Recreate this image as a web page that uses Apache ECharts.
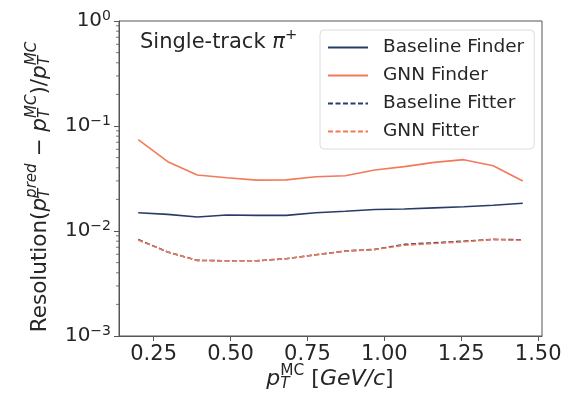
<!DOCTYPE html>
<html>
<head>
<meta charset="utf-8">
<script src="https://cdn.jsdelivr.net/npm/echarts@6/dist/echarts.min.js"></script>
<style>
  html, body { margin: 0; padding: 0; background: #fff; }
  #chart { width: 566px; height: 395px; }
</style>
</head>
<body>
<div id="chart"></div>
<script>
// pT bin centres
const ptMC = [0.2, 0.296, 0.392, 0.488, 0.585, 0.681, 0.777, 0.873, 0.969, 1.065, 1.162, 1.258, 1.354, 1.45];
const baselineFinder = [0.0149, 0.0144, 0.0136, 0.0142, 0.0141, 0.0141, 0.0149, 0.0154, 0.0160, 0.0162, 0.0166, 0.0170, 0.0176, 0.0184];
const gnnFinder = [0.0743, 0.0457, 0.0341, 0.0321, 0.0305, 0.0307, 0.0329, 0.0336, 0.0381, 0.0410, 0.0450, 0.0478, 0.0419, 0.0299];
const baselineFitter = [0.0083, 0.0063, 0.00525, 0.0052, 0.0052, 0.00545, 0.00594, 0.00645, 0.00668, 0.00745, 0.00772, 0.00800, 0.00832, 0.00825];
const gnnFitter = [0.0082, 0.0063, 0.00525, 0.0052, 0.0052, 0.00545, 0.00592, 0.00643, 0.00666, 0.00732, 0.00760, 0.00790, 0.00830, 0.00815];
const xTicks = [0.25, 0.5, 0.75, 1.0, 1.25, 1.5];
const minorDecades = [0.001, 0.01, 0.1];
const minorSteps = [2, 3, 4, 5, 6, 7, 8, 9];

const NAVY = '#283c6a';
const ORANGE = '#f27a5a';
const INK = '#262626';
const FONT = '"DejaVu Sans"';

const X0 = 0.1375, X1 = 1.5125;

function pairs(ys) { return ptMC.map((x, i) => [x, ys[i]]); }

// mathtext-ish: lay out pieces with sub/sup stacked, measured on a canvas
const measureCtx = document.createElement('canvas').getContext('2d');
function mathPieces(parts, fs) {
  let x = 0, subStart = 0;
  const out = [];
  parts.forEach(p => {
    const small = p.s === 'sub' || p.s === 'sup';
    const size = small ? fs * 0.7 : fs;
    const font = (p.i ? 'italic ' : '') + size + 'px ' + FONT;
    measureCtx.font = font;
    const w = measureCtx.measureText(p.t).width;
    let px = x;
    if (p.stack) px = subStart;
    let dy = 0;
    if (p.s === 'sub') dy = fs * 0.22;
    if (p.s === 'sup') dy = -fs * 0.38;
    out.push({ type: 'text', x: px, y: dy, silent: true,
      style: { text: p.t, font: font, fill: INK, verticalAlign: 'middle' } });
    if (p.stack) { x = Math.max(x, px + w); }
    else { subStart = x; x = px + w; }
  });
  return { children: out, width: x };
}

const yTitle = mathPieces([
  { t: 'Resolution(' }, { t: 'p', i: 1 }, { t: 'T', i: 1, s: 'sub' }, { t: 'pred', i: 1, s: 'sup', stack: 1 },
  { t: ' \u2212 ' }, { t: 'p', i: 1 }, { t: 'T', i: 1, s: 'sub' }, { t: 'MC', i: 1, s: 'sup', stack: 1 },
  { t: ')/' }, { t: 'p', i: 1 }, { t: 'T', i: 1, s: 'sub' }, { t: 'MC', i: 1, s: 'sup', stack: 1 }
], 21.5);
const xTitle = mathPieces([
  { t: 'p', i: 1 }, { t: 'T', i: 1, s: 'sub' }, { t: 'MC', s: 'sup', stack: 1 },
  { t: ' [' }, { t: 'GeV/c', i: 1 }, { t: ']' }
], 22);
const titleText = mathPieces([
  { t: 'Single-track ' }, { t: '\u03c0', i: 1 }, { t: '+', s: 'sup' }
], 21);

const minorTicks = [];
minorDecades.forEach(d => minorSteps.forEach(m => minorTicks.push([X0, d * m])));

const chart = echarts.init(document.getElementById('chart'));
const option = {
  animation: false,
  grid: { left: 119, right: 24, top: 21, bottom: 59, show: true, borderColor: '#555', borderWidth: 1 },
  xAxis: {
    type: 'value', min: X0, max: X1,
    axisLine: { lineStyle: { color: '#555', width: 1 } },
    axisTick: { show: true, length: 5, customValues: xTicks, lineStyle: { color: '#555' } },
    axisLabel: { customValues: xTicks, fontSize: 21, fontFamily: FONT, color: INK, margin: 8,
      formatter: v => v.toFixed(2) },
    splitLine: { show: false }
  },
  yAxis: {
    type: 'log', logBase: 10, min: 0.001, max: 1,
    axisLine: { show: true, lineStyle: { color: '#555', width: 1 } },
    axisTick: { show: true, length: 5, lineStyle: { color: '#555' } },
    axisLabel: {
      fontFamily: FONT, color: INK, margin: 8,
      formatter: v => '{b|10}{s|' + Math.round(Math.log10(v)).toString().replace('-', '\u2212') + '}',
      rich: {
        b: { fontSize: 20, fontFamily: FONT, color: INK },
        s: { fontSize: 14, fontFamily: FONT, color: INK, verticalAlign: 'top', padding: [0, 0, 10, 0] }
      }
    },
    splitLine: { show: false }
  },
  legend: {
    orient: 'vertical', left: 320, top: 30, itemWidth: 40, itemHeight: 12, itemGap: 9,
    padding: [8, 10, 8, 7],
    borderColor: '#dcdcdc', borderWidth: 1, borderRadius: 4, backgroundColor: 'rgba(255,255,255,0.8)',
    itemStyle: { opacity: 0 },
    textStyle: { fontSize: 18.5, fontFamily: FONT, color: INK, padding: [0, 0, 0, 10] },
    data: ['Baseline Finder', 'GNN Finder', 'Baseline Fitter', 'GNN Fitter']
  },
  series: [
    { name: 'Baseline Finder', type: 'line', data: pairs(baselineFinder), symbol: 'none',
      lineStyle: { color: NAVY, width: 1.6 }, itemStyle: { color: NAVY } },
    { name: 'GNN Finder', type: 'line', data: pairs(gnnFinder), symbol: 'none',
      lineStyle: { color: ORANGE, width: 1.6 }, itemStyle: { color: ORANGE } },
    { name: 'Baseline Fitter', type: 'line', data: pairs(baselineFitter), symbol: 'none',
      lineStyle: { color: NAVY, width: 1.6, type: [5, 2.5] }, itemStyle: { color: NAVY } },
    { name: 'GNN Fitter', type: 'line', data: pairs(gnnFitter), symbol: 'none',
      lineStyle: { color: ORANGE, width: 1.6, type: [5, 2.5] }, itemStyle: { color: ORANGE } },
    // minor ticks of the log axis
    { type: 'custom', data: minorTicks, silent: true, clip: false, z: 5,
      renderItem: (params, api) => {
        const p = api.coord([api.value(0), api.value(1)]);
        return { type: 'line', shape: { x1: p[0] - 3, y1: p[1], x2: p[0], y2: p[1] },
          style: { stroke: '#555', lineWidth: 0.8 } };
      } }
  ],
  graphic: [
    { type: 'group', x: 140, y: 43, children: titleText.children },
    { type: 'group', x: 330 - xTitle.width / 2, y: 379, children: xTitle.children },
    { type: 'group', x: 40, y: 187 + yTitle.width / 2, rotation: Math.PI / 2, children: yTitle.children }
  ]
};
chart.setOption(option);
</script>
</body>
</html>
